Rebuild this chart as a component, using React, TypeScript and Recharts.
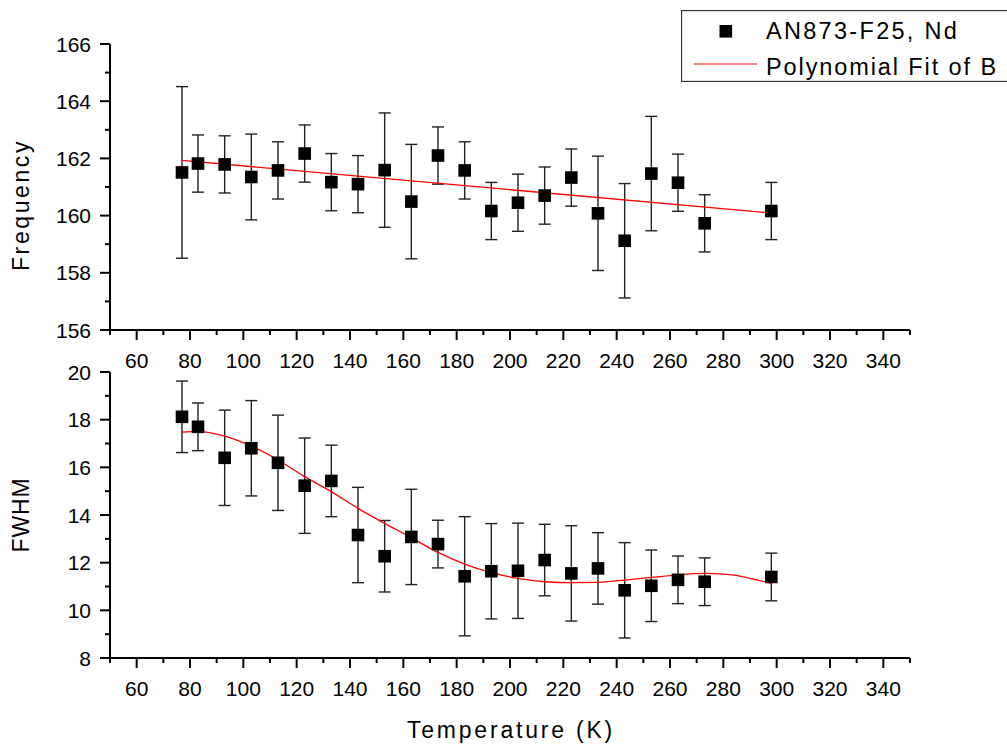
import React from 'react';
import { ComposedChart, Scatter, Line, XAxis, YAxis, ErrorBar, Legend } from 'recharts';

const temps = [77, 83, 93, 103, 113, 123, 133, 143, 153, 163, 173, 183, 193, 203, 213, 223, 233, 243, 253, 263, 273, 298];
const freq = [161.51, 161.82, 161.79, 161.35, 161.58, 162.17, 161.17, 161.10, 161.59, 160.49, 162.10, 161.58, 160.16, 160.45, 160.70, 161.33, 160.08, 159.12, 161.47, 161.15, 159.73, 160.16];
const freqErr = [3.0, 1.0, 1.0, 1.5, 1.0, 1.0, 1.0, 1.0, 2.0, 2.0, 1.0, 1.0, 1.0, 1.0, 1.0, 1.0, 2.0, 2.0, 2.0, 1.0, 1.0, 1.0];
const fwhm = [18.12, 17.70, 16.40, 16.80, 16.19, 15.23, 15.43, 13.16, 12.27, 13.08, 12.78, 11.43, 11.64, 11.66, 12.11, 11.55, 11.76, 10.84, 11.03, 11.28, 11.20, 11.40];
const fwhmErr = [1.5, 1.0, 2.0, 2.0, 2.0, 2.0, 1.5, 2.0, 1.5, 2.0, 1.0, 2.5, 2.0, 2.0, 1.5, 2.0, 1.5, 2.0, 1.5, 1.0, 1.0, 1.0];

const freqFitT = [77, 298];
const freqFitV = [161.93, 160.09];
const fwhmFitT = [77, 83, 93, 103, 113, 123, 133, 143, 153, 163, 173, 183, 193, 203, 213, 223, 233, 243, 253, 263, 274, 284, 290, 298];
const fwhmFitV = [17.48, 17.51, 17.31, 16.89, 16.31, 15.61, 14.98, 14.28, 13.65, 13.05, 12.43, 11.94, 11.58, 11.34, 11.20, 11.16, 11.17, 11.27, 11.38, 11.49, 11.55, 11.48, 11.34, 11.13];

const xTicks = [50, 60, 70, 80, 90, 100, 110, 120, 130, 140, 150, 160, 170, 180, 190, 200, 210, 220, 230, 240, 250, 260, 270, 280, 290, 300, 310, 320, 330, 340, 350];
const xLabels = [60, 80, 100, 120, 140, 160, 180, 200, 220, 240, 260, 280, 300, 320, 340];
const freqTicks = [156, 157, 158, 159, 160, 161, 162, 163, 164, 165, 166];
const freqLabels = [156, 158, 160, 162, 164, 166];
const fwhmTicks = [8, 9, 10, 11, 12, 13, 14, 15, 16, 17, 18, 19, 20];
const fwhmLabels = [8, 10, 12, 14, 16, 18, 20];

const seriesName = 'AN873-F25, Nd';
const fitName = 'Polynomial Fit of B';

const FONT = '"Liberation Sans", Arial, sans-serif';

const freqData = temps.map((t, i) => ({ t, v: freq[i], e: freqErr[i] }));
const fwhmData = temps.map((t, i) => ({ t, v: fwhm[i], e: fwhmErr[i] }));
const freqFit = freqFitT.map((t, i) => ({ t, v: freqFitV[i] }));
const fwhmFit = fwhmFitT.map((t, i) => ({ t, v: fwhmFitV[i] }));

const makeXTick = (labels: number[]) => (props: any) => {
  const { x, y, payload } = props;
  const major = labels.includes(payload.value);
  return (
    <g>
      <line x1={x} x2={x} y1={y} y2={y + (major ? 10 : 5)} stroke="#000" strokeWidth={2} />
      {major && (
        <text x={x} y={y + 38} textAnchor="middle" fontSize={21} fontFamily={FONT} fill="#000">
          {payload.value}
        </text>
      )}
    </g>
  );
};

const makeYTick = (labels: number[]) => (props: any) => {
  const { x, y, payload } = props;
  const major = labels.includes(payload.value);
  return (
    <g>
      <line x1={x} x2={x - (major ? 10 : 5)} y1={y} y2={y} stroke="#000" strokeWidth={2} />
      {major && (
        <text x={x - 19} y={y + 7.5} textAnchor="end" fontSize={21} fontFamily={FONT} fill="#000">
          {payload.value}
        </text>
      )}
    </g>
  );
};

const Square = (props: any) => {
  const { cx, cy } = props;
  if (cx == null || cy == null) return null;
  return <rect x={cx - 6.3} y={cy - 6.3} width={12.6} height={12.6} fill="#000" />;
};

const renderLegend = () => (
  <div style={{ width: 340, height: 72, position: 'relative', background: '#fff' }}>
    <svg width={340} height={72} style={{ position: 'absolute', left: 0, top: 0 }}>
      <rect x={0.5} y={0.5} width={360} height={71} fill="#fff" stroke="#333" strokeWidth={1.3} />
      <rect x={38.5} y={15} width={12.6} height={12.6} fill="#000" />
      <line x1={13} x2={76} y1={54} y2={54} stroke="#ff0000" strokeWidth={1.2} />
      <text x={85} y={28.5} fontSize={23.5} fontFamily={FONT} letterSpacing={2.3} fill="#000">{seriesName}</text>
      <text x={85} y={64.5} fontSize={23.5} fontFamily={FONT} letterSpacing={1.9} fill="#000">{fitName}</text>
    </svg>
  </div>
);

const yTitle = (text: string, cy: number, spacing: number) => (props: any) => (
  <text
    transform={`translate(28.5, ${cy}) rotate(-90)`}
    textAnchor="middle"
    fontSize={23}
    fontFamily={FONT}
    letterSpacing={spacing}
    fill="#000"
  >
    {text}
  </text>
);

const xTitle = () => (
  <text x={511} y={410} textAnchor="middle" fontSize={23} fontFamily={FONT} letterSpacing={2.8} fill="#000">
    Temperature (K)
  </text>
);

export default function App() {
  return (
    <div style={{ position: 'absolute', left: 0, top: 0, width: 1007, height: 747, overflow: 'hidden', background: '#fff' }}>
      <div style={{ position: 'absolute', left: 0, top: 0 }}>
        <ComposedChart width={1007} height={400} margin={{ top: 44, right: 97, left: 50, bottom: 0 }}>
          <XAxis
            type="number"
            dataKey="t"
            domain={[50, 350]}
            ticks={xTicks}
            interval={0}
            tickSize={0}
            tickMargin={0}
            height={70}
            axisLine={{ stroke: '#000', strokeWidth: 2 }}
            tickLine={false}
            tick={makeXTick(xLabels)}
            allowDataOverflow
          />
          <YAxis
            type="number"
            domain={[156, 166]}
            ticks={freqTicks}
            interval={0}
            tickSize={0}
            tickMargin={0}
            width={60}
            axisLine={{ stroke: '#000', strokeWidth: 2 }}
            tickLine={false}
            tick={makeYTick(freqLabels)}
            label={yTitle('Frequency', 205, 2.6)}
            allowDataOverflow
          />
          <Legend
            layout="vertical"
            align="center"
            verticalAlign="middle"
            content={renderLegend}
            wrapperStyle={{ left: 681, top: 10, width: 340, height: 72 }}
          />
          <Scatter data={freqData} dataKey="v" name={seriesName} shape={<Square />} isAnimationActive={false}>
            <ErrorBar dataKey="e" direction="y" width={6} stroke="#222" strokeWidth={1.4} isAnimationActive={false} />
          </Scatter>
          <Line data={freqFit} dataKey="v" name={fitName} type="linear" stroke="#ff0000" strokeWidth={1.3} dot={false} activeDot={false} isAnimationActive={false} />
        </ComposedChart>
      </div>
      <div style={{ position: 'absolute', left: 0, top: 328 }}>
        <ComposedChart width={1007} height={419} margin={{ top: 44, right: 97, left: 50, bottom: 49 }}>
          <XAxis
            type="number"
            dataKey="t"
            domain={[50, 350]}
            ticks={xTicks}
            interval={0}
            tickSize={0}
            tickMargin={0}
            height={40}
            axisLine={{ stroke: '#000', strokeWidth: 2 }}
            tickLine={false}
            tick={makeXTick(xLabels)}
            label={xTitle}
            allowDataOverflow
          />
          <YAxis
            type="number"
            domain={[8, 20]}
            ticks={fwhmTicks}
            interval={0}
            tickSize={0}
            tickMargin={0}
            width={60}
            axisLine={{ stroke: '#000', strokeWidth: 2 }}
            tickLine={false}
            tick={makeYTick(fwhmLabels)}
            label={yTitle('FWHM', 187, 0.9)}
            allowDataOverflow
          />
          <Scatter data={fwhmData} dataKey="v" name={seriesName} shape={<Square />} isAnimationActive={false}>
            <ErrorBar dataKey="e" direction="y" width={6} stroke="#222" strokeWidth={1.4} isAnimationActive={false} />
          </Scatter>
          <Line data={fwhmFit} dataKey="v" name={fitName} type="monotone" stroke="#ff0000" strokeWidth={1.3} dot={false} activeDot={false} isAnimationActive={false} />
        </ComposedChart>
      </div>
    </div>
  );
}
